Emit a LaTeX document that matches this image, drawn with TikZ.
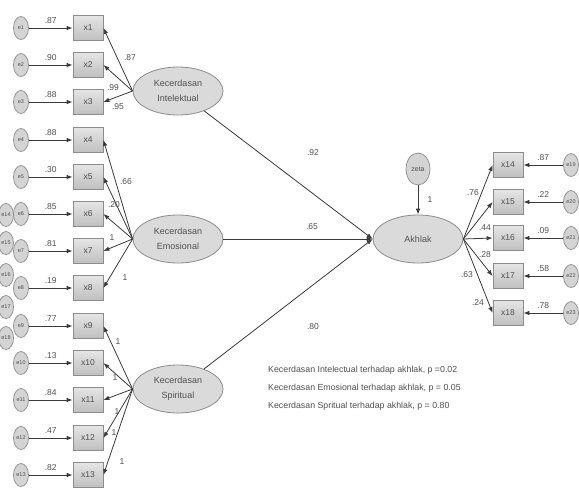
\documentclass[tikz,border=0pt]{standalone}
\usepackage{fontspec}
\setmainfont{Liberation Sans}
\usetikzlibrary{shapes.geometric,arrows.meta}
\definecolor{linec}{HTML}{3A3A3A}
\definecolor{fillg}{HTML}{D4D4D4}
\definecolor{bordg}{HTML}{8C8C8C}
\definecolor{txtc}{HTML}{505050}
\tikzset{
  box/.style={rectangle,draw=bordg,line width=0.8pt,top color=fillg!60,bottom color=fillg!90!black,minimum width=30pt,minimum height=25pt,inner sep=0pt,font=\fontsize{8.5}{9}\selectfont,text=txtc},
  err/.style={ellipse,draw=bordg,line width=0.7pt,fill=fillg,minimum width=15pt,minimum height=23pt,inner sep=0pt,font=\fontsize{5.5}{5.5}\selectfont,text=txtc},
  latent/.style={ellipse,draw=bordg,line width=0.8pt,fill=fillg!85,minimum width=90pt,minimum height=48pt,inner sep=0pt,align=center,font=\fontsize{9}{15}\selectfont,text=txtc},
  arr/.style={draw=linec,line width=0.8pt,-{Latex[length=6pt,width=4.5pt]}},
  lab/.style={font=\fontsize{8.5}{8.5}\selectfont,text=txtc,inner sep=1pt},
  note/.style={font=\fontsize{8.8}{18}\selectfont,text=txtc,align=left,anchor=north west,inner sep=0pt}
}
\begin{document}
\begin{tikzpicture}[x=1pt,y=-1pt]
\path[use as bounding box,fill=white] (0,0) rectangle (579,491);
\clip (0,0) rectangle (579,491);
% latent variables
\node[latent] (KI) at (178,91) {Kecerdasan\\Intelektual};
\node[latent] (KE) at (178,239) {Kecerdasan\\Emosional};
\node[latent] (KS) at (178,389) {Kecerdasan\\Spiritual};
\node[latent] (AK) at (418,239) {Akhlak};
\node[err,minimum width=24pt,minimum height=32pt,font=\fontsize{7}{7}\selectfont] (zeta) at (418,169) {zeta};
% extra left error circles
\foreach \j/\y in {14/215,15/243,16/275,17/307,18/338}{
  \node[err] (ex\j) at (6,\y) {e\j};
}
% left indicators
\foreach \i/\y/\v in {1/28/.87,2/65/.90,3/102/.88,4/140/.88,5/177/.30,6/214/.85,7/251/.81,8/288/.19,9/326/.77,10/363/.13,11/400/.84,12/438/.47,13/475/.82}{
  \node[box] (x\i) at (88,\y) {x\i};
  \node[err] (e\i) at (21,\y) {e\i};
  \draw[arr] (e\i) -- (x\i) node[lab,midway,above=3pt] {\v};
}
% right indicators
\foreach \i/\k/\y/\v in {14/19/165/.87,15/20/202/.22,16/21/238/.09,17/22/276/.58,18/23/313/.78}{
  \node[box] (x\i) at (508,\y) {x\i};
  \node[err] (e\k) at (571,\y) {e\k};
  \draw[arr] (e\k) -- (x\i) node[lab,midway,above=3pt] {\v};
  \draw[arr] (AK.east) -- (x\i.west);
}
% loadings
\foreach \i in {1,2,3}{\draw[arr] (KI.west) -- (x\i.east);}
\foreach \i in {4,5,6,7,8}{\draw[arr] (KE.west) -- (x\i.east);}
\foreach \i in {9,10,11,12,13}{\draw[arr] (KS.west) -- (x\i.east);}
% structural paths
\draw[arr] (KI) -- (AK.west);
\draw[arr] (KE) -- (AK.west);
\draw[arr] (KS) -- (AK.west);
\draw[arr] (zeta) -- (AK);
% loading labels
\node[lab] (l1) at (130,58) {.87};
\node[lab] (l2) at (113,88) {.99};
\node[lab] (l3) at (118,107) {.95};
\node[lab] (l4) at (126,182) {.66};
\node[lab] (l5) at (114,205) {.20};
\node[lab] (l6) at (112,238) {1};
\node[lab] (l7) at (125,278) {1};
\node[lab] (l8) at (118,342) {1};
\node[lab] (l9) at (115,378) {1};
\node[lab] (l10) at (117,412) {1};
\node[lab] (l11) at (114,433) {1};
\node[lab] (l12) at (122,462) {1};
\node[lab] (r1) at (473,193) {.76};
\node[lab] (r2) at (485,228) {.44};
\node[lab] (r3) at (485,255) {.28};
\node[lab] (r4) at (467,275) {.63};
\node[lab] (r5) at (478,303) {.24};
\node[lab] (s1) at (313,153) {.92};
\node[lab] (s2) at (312,227) {.65};
\node[lab] (s3) at (313,327) {.80};
\node[lab] (z1) at (430,200) {1};
% note
\node[note] (nt) at (268,366) {Kecerdasan Intelectual terhadap akhlak, p =0.02\\Kecerdasan Emosional terhadap akhlak, p = 0.05\\Kecerdasan Spritual terhadap akhlak, p = 0.80};
\end{tikzpicture}
\end{document}
